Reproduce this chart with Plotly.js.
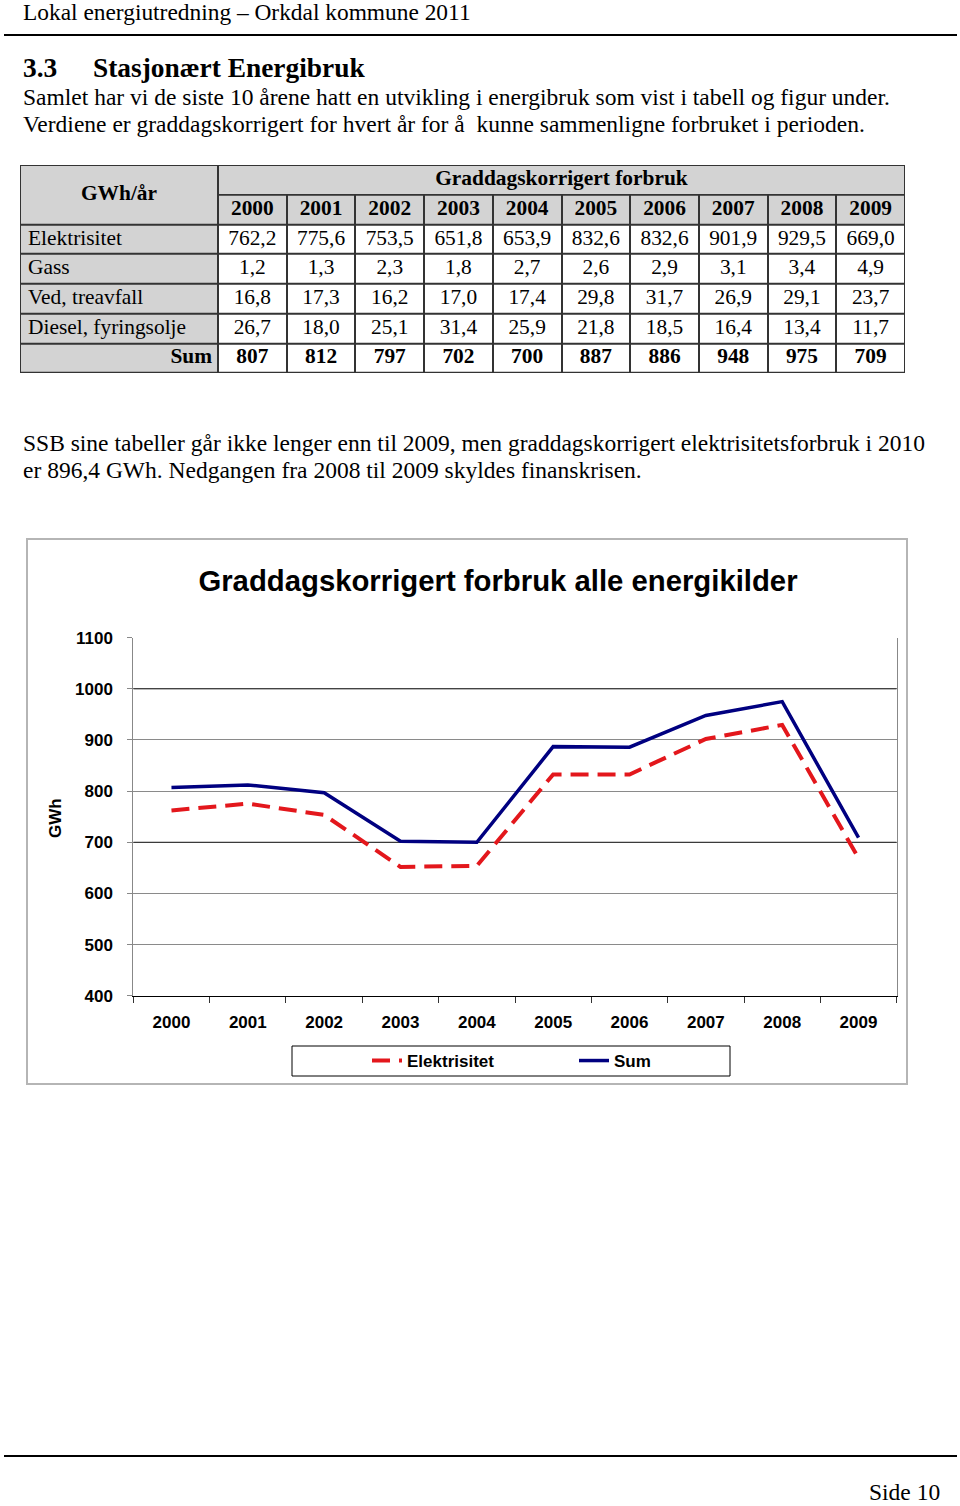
<!DOCTYPE html>
<html>
<head>
<meta charset="utf-8">
<script src="https://cdn.plot.ly/plotly-3.0.1.min.js"></script>
<style>html,body{margin:0;padding:0;background:#fff;}#page{width:960px;height:1506px;}</style>
</head>
<body>
<div id="page"></div>
<script>
// ---------- data ----------
const years = ['2000','2001','2002','2003','2004','2005','2006','2007','2008','2009'];
const rowLabels = ['Elektrisitet','Gass','Ved, treavfall','Diesel, fyringsolje'];
const elektrisitet = [762.2,775.6,753.5,651.8,653.9,832.6,832.6,901.9,929.5,669.0];
const gass = [1.2,1.3,2.3,1.8,2.7,2.6,2.9,3.1,3.4,4.9];
const ved = [16.8,17.3,16.2,17.0,17.4,29.8,31.7,26.9,29.1,23.7];
const diesel = [26.7,18.0,25.1,31.4,25.9,21.8,18.5,16.4,13.4,11.7];
const sum = [807,812,797,702,700,887,886,948,975,709];
const unitLabel = 'GWh/år';
const tableTitle = 'Graddagskorrigert forbruk';
const sumLabel = 'Sum';
const chartTitle = 'Graddagskorrigert forbruk alle energikilder';
const yTitle = 'GWh';
const seriesNames = ['Elektrisitet','Sum'];
const darkGridValues = [1000, 700];

// ---------- layout helpers ----------
const W = 960, H = 1506;
const px = x => x / W;
const py = y => 1 - y / H;
const SERIF = 'Liberation Serif, Times New Roman, serif';
const SANS = 'Liberation Sans, Arial, sans-serif';

function txt(text, x, y, size, extra) {
  return Object.assign({
    text: text, x: px(x), y: py(y), xref: 'paper', yref: 'paper',
    xanchor: 'left', yanchor: 'middle', showarrow: false, borderpad: 0,
    font: {family: SERIF, size: size, color: '#000'}
  }, extra || {});
}

// table geometry (axis units: one year column = 1)
const C = 198 / 68.7; // width of first column in year-column units
const fmt = v => v.toFixed(1).replace('.', ',');
const bodyRows = [elektrisitet, gass, ved, diesel];

const traces = [];

// cell fills (heatmaps)
const xEdges = [-C]; for (let i = 0; i <= years.length; i++) xEdges.push(i);
const yEdges = []; for (let r = 1; r <= 7; r++) yEdges.push(r);
const zBody = [];
zBody.push(xEdges.slice(1).map(() => 1));
for (let r = 0; r < bodyRows.length + 1; r++) zBody.push(xEdges.slice(1).map((_, i) => i === 0 ? 1 : 0));
const hmCommon = {type: 'heatmap', xaxis: 'x2', yaxis: 'y2', colorscale: [[0,'#ffffff'],[1,'#d3d3d3']],
  zmin: 0, zmax: 1, showscale: false, xgap: 2, ygap: 2, hoverinfo: 'skip', showlegend: false};
traces.push(Object.assign({x: xEdges, y: yEdges, z: zBody}, hmCommon));
traces.push(Object.assign({x: [-C, 0], y: [0, 2], z: [[1]]}, hmCommon));
traces.push(Object.assign({x: [0, years.length], y: [0, 1], z: [[1]]}, hmCommon));

const tf = (bold) => ({family: SERIF, size: 21.4, color: '#000', weight: bold ? 'bold' : 'normal'});
const txtTrace = (x, y, text, pos, bold) => ({type: 'scatter', mode: 'text', xaxis: 'x2', yaxis: 'y2',
  x: x, y: y, text: text, textposition: pos, textfont: tf(bold), hoverinfo: 'skip', showlegend: false, cliponaxis: false});

// header texts
traces.push(txtTrace([-C/2], [1.0], [unitLabel], 'middle center', true));
traces.push(txtTrace([years.length/2], [0.5], [tableTitle], 'middle center', true));
traces.push(txtTrace(years.map((_, i) => i + 0.5), years.map(() => 1.5), years, 'middle center', true));
// row labels
traces.push(txtTrace(rowLabels.map(() => -C + 8/68.7), rowLabels.map((_, r) => r + 2.5), rowLabels, 'middle right', false));
traces.push(txtTrace([-6/68.7], [6.5], [sumLabel], 'middle left', true));
// values
bodyRows.forEach((row, r) => {
  traces.push(txtTrace(row.map((_, i) => i + 0.5), row.map(() => r + 2.5), row.map(fmt), 'middle center', false));
});
traces.push(txtTrace(sum.map((_, i) => i + 0.5), sum.map(() => 6.5), sum.map(String), 'middle center', true));

// chart lines
traces.push({type: 'scatter', mode: 'lines', name: seriesNames[0], x: years, y: elektrisitet,
  line: {color: '#e3171c', width: 4, dash: '18px,9px'}, hoverinfo: 'skip'});
traces.push({type: 'scatter', mode: 'lines', name: seriesNames[1], x: years, y: sum,
  line: {color: '#000080', width: 3.5}, hoverinfo: 'skip'});

const annotations = [
  txt('Lokal energiutredning – Orkdal kommune 2011', 22, 12, 23.4),
  txt('<b>3.3</b>', 22, 68, 27.4),
  txt('<b>Stasjonært Energibruk</b>', 92, 68, 27.4),
  txt('Samlet har vi de siste 10 årene hatt en utvikling i energibruk som vist i tabell og figur under.', 22, 97, 23.5),
  txt('Verdiene er graddagskorrigert for hvert år for å  kunne sammenligne forbruket i perioden.', 22, 124, 23.5),
  txt('SSB sine tabeller går ikke lenger enn til 2009, men graddagskorrigert elektrisitetsforbruk i 2010', 22, 443, 23.5),
  txt('er 896,4 GWh. Nedgangen fra 2008 til 2009 skyldes finanskrisen.', 22, 470, 23.5),
  txt('Side 10', 868, 1492, 23.5),
  {text: yTitle, x: px(56), y: py(818), xref: 'paper', yref: 'paper', xanchor: 'center', yanchor: 'middle',
   showarrow: false, textangle: -90, font: {family: SANS, size: 17, weight: 'bold', color: '#000'}}
];

const shapes = [
  {type: 'line', xref: 'paper', yref: 'paper', x0: px(4), x1: px(957), y0: py(35), y1: py(35), line: {color: '#000', width: 2}},
  {type: 'line', xref: 'paper', yref: 'paper', x0: px(4), x1: px(957), y0: py(1456), y1: py(1456), line: {color: '#000', width: 2}},
  // chart frame
  {type: 'rect', xref: 'paper', yref: 'paper', x0: px(27), x1: px(907), y0: py(539), y1: py(1084), line: {color: '#b5b5b5', width: 2}, layer: 'below'},
  // legend box
  {type: 'rect', xref: 'paper', yref: 'paper', x0: px(292), x1: px(730), y0: py(1046), y1: py(1076), line: {color: '#000', width: 1}},
  // table border background
  {type: 'rect', xref: 'x2', yref: 'y2', x0: -C, x1: years.length, y0: 0, y1: 7, fillcolor: '#333', line: {color: '#333', width: 2}, layer: 'between'}
];
// darker gridlines
darkGridValues.forEach(v => shapes.push({type: 'line', xref: 'x', yref: 'y', x0: -0.5, x1: years.length - 0.5,
  y0: v, y1: v, line: {color: '#222', width: 1}, layer: 'between'}));

const layout = {
  width: W, height: H, autosize: false,
  margin: {l: 0, r: 0, t: 0, b: 0, pad: 0},
  paper_bgcolor: '#fff', plot_bgcolor: '#fff',
  title: {text: chartTitle, x: px(498), y: py(581), xanchor: 'center', yanchor: 'middle',
    font: {family: SANS, size: 29.3, weight: 'bold', color: '#000'}},
  xaxis: {domain: [px(133.3), px(896.7)], anchor: 'y', type: 'category', range: [-0.5, 9.5],
    tickson: 'boundaries', ticks: 'outside', ticklen: 6, tickcolor: '#333', tickwidth: 1,
    showline: true, linecolor: '#000', linewidth: 1.5, showgrid: false, ticklabelstandoff: 10,
    tickfont: {family: SANS, size: 17, weight: 'bold', color: '#000'}, fixedrange: true},
  yaxis: {domain: [py(995.7), py(637.7)], anchor: 'x', range: [400, 1100], dtick: 100, tick0: 0,
    ticks: 'outside', ticklen: 5, tickcolor: '#888', showline: true, linecolor: '#888', linewidth: 1, mirror: true,
    gridcolor: '#8a8a8a', gridwidth: 1, zeroline: false, ticklabelstandoff: 11,
    tickfont: {family: SANS, size: 17, weight: 'bold', color: '#000'}, fixedrange: true},
  xaxis2: {domain: [px(20), px(905)], anchor: 'y2', range: [-C, years.length], visible: false, fixedrange: true},
  yaxis2: {domain: [py(373), py(165)], anchor: 'x2', range: [7, 0], visible: false, fixedrange: true},
  showlegend: true,
  legend: {orientation: 'h', x: px(367), y: py(1061), xanchor: 'left', yanchor: 'middle',
    bgcolor: 'rgba(0,0,0,0)', borderwidth: 0, entrywidth: 162, entrywidthmode: 'pixels', itemwidth: 30,
    font: {family: SANS, size: 17, weight: 'bold', color: '#000'}},
  annotations: annotations,
  shapes: shapes
};

Plotly.newPlot('page', traces, layout, {staticPlot: true, displayModeBar: false});
</script>
</body>
</html>
